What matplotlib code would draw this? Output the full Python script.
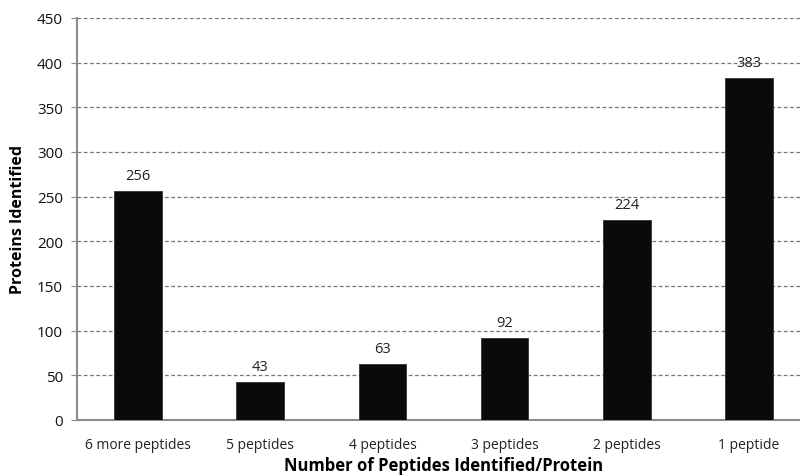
import matplotlib.pyplot as plt
import numpy as np

# peptide count categories and number of proteins
categories = ['6 more peptides', '5 peptides', '4 peptides', '3 peptides', '2 peptides', '1 peptide']
proteins = [256, 43, 63, 92, 224, 383]

plt.rcParams['font.family'] = ['Open Sans', 'DejaVu Sans']

fig = plt.figure(figsize=(8, 4.77), dpi=100)
# axes runs a little past the right edge of the figure
ax = fig.add_axes([77 / 800, 56 / 477, 733 / 800, 402 / 477])

x = np.arange(len(categories))
bars = ax.bar(x, proteins, width=0.39, color='#0a0a0a', edgecolor='#333333', linewidth=0.6, zorder=3)

# value labels above each bar
for xi, v in zip(x, proteins):
    ax.text(xi, v + 9, str(v), ha='center', va='bottom', fontsize=10.5, color='#222222')

ax.set_xlim(-0.5, len(categories) - 0.5)
ax.set_ylim(0, 450)
ax.set_yticks(np.arange(0, 451, 50))
ax.set_xticks(x)
ax.set_xticklabels(categories)

# dashed grid
ax.grid(axis='y', linestyle=(0, (3, 2)), color='#777777', linewidth=0.9, zorder=0)

for side in ['top', 'right']:
    ax.spines[side].set_visible(False)
for side in ['left', 'bottom']:
    ax.spines[side].set_color('#8c8c8c')
    ax.spines[side].set_linewidth(1.5)

ax.tick_params(axis='y', length=4, color='#8c8c8c', labelsize=11, pad=6, labelcolor='#111111')
ax.tick_params(axis='x', length=0, labelsize=10, pad=12, labelcolor='#222222')

ax.set_xlabel('Number of Peptides Identified/Protein', fontsize=12, fontweight='bold', labelpad=3)
ax.set_ylabel('Proteins Identified', fontsize=11.5, fontweight='bold', labelpad=8)

plt.savefig('out.png', dpi=100)
